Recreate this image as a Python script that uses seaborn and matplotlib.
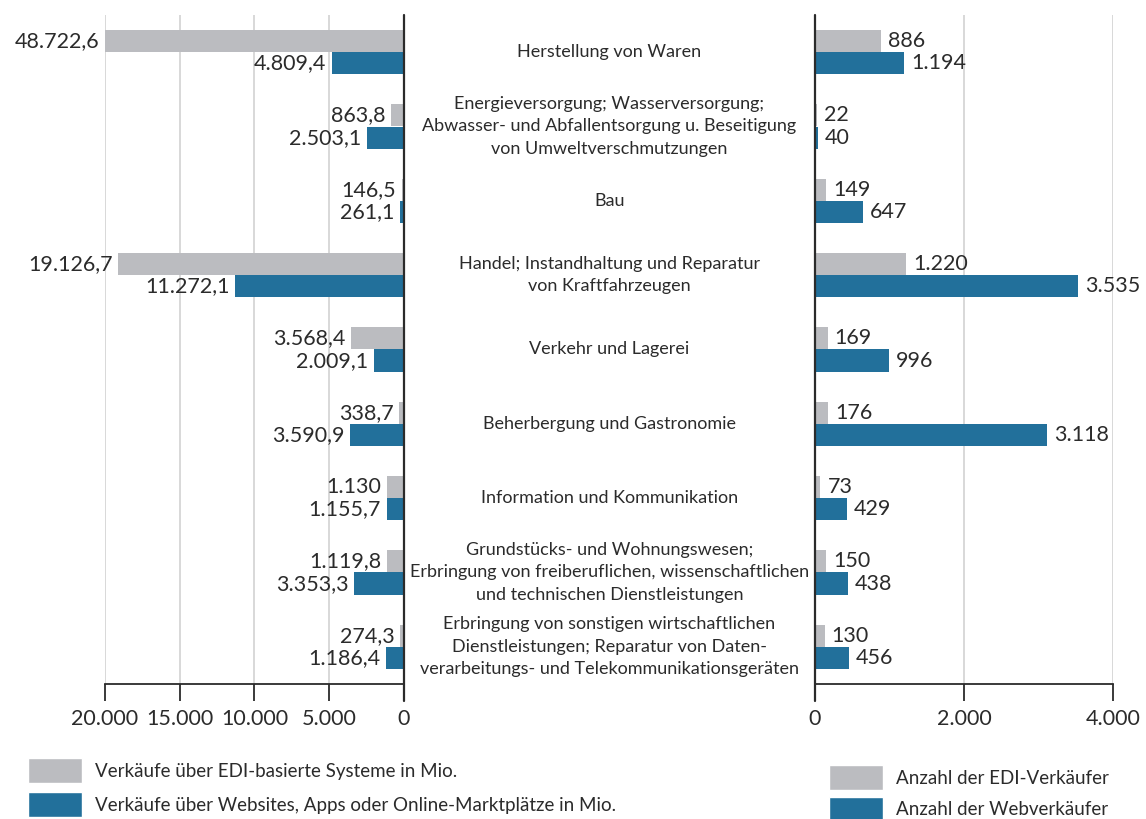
import pandas as pd
import matplotlib.pyplot as plt
import matplotlib.transforms as mtrans
from matplotlib.patches import Patch
import seaborn as sns

branchen = ['Herstellung von Waren',
            'Energieversorgung; Wasserversorgung;\nAbwasser- und Abfallentsorgung u. Beseitigung\nvon Umweltverschmutzungen',
            'Bau',
            'Handel; Instandhaltung und Reparatur\nvon Kraftfahrzeugen',
            'Verkehr und Lagerei',
            'Beherbergung und Gastronomie',
            'Information und Kommunikation',
            'Grundstücks- und Wohnungswesen;\nErbringung von freiberuflichen, wissenschaftlichen\nund technischen Dienstleistungen',
            'Erbringung von sonstigen wirtschaftlichen\nDienstleistungen; Reparatur von Daten-\nverarbeitungs- und Telekommunikationsgeräten']
edi_umsatz = [48722.6, 863.8, 146.5, 19126.7, 3568.4, 338.7, 1130.0, 1119.8, 274.3]
web_umsatz = [4809.4, 2503.1, 261.1, 11272.1, 2009.1, 3590.9, 1155.7, 3353.3, 1186.4]
edi_anzahl = [886, 22, 149, 1220, 169, 176, 73, 150, 130]
web_anzahl = [1194, 40, 647, 3535, 996, 3118, 429, 438, 456]

leg_links = ['Verkäufe über EDI-basierte Systeme in Mio.',
             'Verkäufe über Websites, Apps oder Online-Marktplätze in Mio.']
leg_rechts = ['Anzahl der EDI-Verkäufer', 'Anzahl der Webverkäufer']

grau = '#bbbcc0'
blau = '#22709b'
txt = '#2b2b2b'

sns.set_theme(style='white')
plt.rcParams['font.family'] = ['Lato', 'DejaVu Sans']


def de(v, dec=1):
    # German number format, drop ",0"
    s = f'{v:,.{dec}f}'.replace(',', 'X').replace('.', ',').replace('X', '.')
    if s.endswith(',0'):
        s = s[:-2]
    return s


df_l = pd.DataFrame({'Branche': branchen * 2,
                     'Wert': edi_umsatz + web_umsatz,
                     'Art': ['edi'] * 9 + ['web'] * 9})
df_r = pd.DataFrame({'Branche': branchen * 2,
                     'Wert': edi_anzahl + web_anzahl,
                     'Art': ['edi'] * 9 + ['web'] * 9})

fig = plt.figure(figsize=(11.46, 8.19), dpi=100)
W, H = 1146, 819
ax1 = fig.add_axes([105 / W, 1 - 684 / H, 299 / W, 669 / H])
ax2 = fig.add_axes([815 / W, 1 - 684 / H, 298 / W, 669 / H])

for ax, df in [(ax1, df_l), (ax2, df_r)]:
    sns.barplot(data=df, x='Wert', y='Branche', hue='Art', orient='h',
                palette=[grau, blau], width=0.6, gap=0, legend=False,
                saturation=1, errorbar=None, ax=ax, zorder=3, linewidth=0)
    ax.set_ylim(8.5, -0.5)
    ax.set_ylabel('')
    ax.set_xlabel('')
    ax.set_yticks([])
    ax.grid(axis='x', color='#d6d6d6', linewidth=1.3, zorder=0)
    ax.tick_params(axis='x', bottom=True, length=12, width=1.3, color=txt,
                   labelsize=15.5, labelcolor=txt, pad=6)
    for s in ['top', 'left', 'right', 'bottom']:
        ax.spines[s].set_visible(False)
    ax.spines['bottom'].set_visible(True)
    ax.spines['bottom'].set_color(txt)
    ax.spines['bottom'].set_linewidth(1.3)

ax1.set_xlim(20000, 0)
ax1.set_xticks([20000, 15000, 10000, 5000, 0])
ax1.set_xticklabels([de(t, 0) for t in [20000, 15000, 10000, 5000, 0]])
ax1.axvline(0, color=txt, lw=1.6, ymin=-0.025, clip_on=False, zorder=4)

ax2.set_xlim(0, 4000)
ax2.set_xticks([0, 2000, 4000])
ax2.set_xticklabels([de(t, 0) for t in [0, 2000, 4000]])
ax2.axvline(0, color=txt, lw=1.6, ymin=-0.025, clip_on=False, zorder=4)

# value labels
for i in range(9):
    for v, off in [(edi_umsatz[i], -0.15), (web_umsatz[i], 0.15)]:
        ax1.annotate(de(v), (min(v, 20000), i + off), xytext=(-4, 0),
                     textcoords='offset points', ha='right', va='center',
                     fontsize=15.5, color=txt, annotation_clip=False)
    for v, off in [(edi_anzahl[i], -0.15), (web_anzahl[i], 0.15)]:
        ax2.annotate(de(v, 0), (v, i + off), xytext=(5, 0),
                     textcoords='offset points', ha='left', va='center',
                     fontsize=15.5, color=txt, annotation_clip=False)

# category labels in the middle
tr = mtrans.blended_transform_factory(fig.transFigure, ax1.transData)
for i, b in enumerate(branchen):
    fig.text(609.5 / W, i, b, transform=tr, ha='center', va='center',
             fontsize=13, color=txt, linespacing=1.5)

h = [Patch(facecolor=grau), Patch(facecolor=blau)]
fig.legend(h, leg_links, loc='upper left', bbox_to_anchor=(28 / W, 1 - 758 / H),
           frameon=False, fontsize=13.5, handlelength=2.9, handleheight=1.67,
           labelspacing=0.48, handletextpad=0.7, labelcolor=txt,
           borderpad=0, borderaxespad=0)
fig.legend(h, leg_rechts, loc='upper left', bbox_to_anchor=(829 / W, 1 - 765 / H),
           frameon=False, fontsize=13.5, handlelength=2.9, handleheight=1.67,
           labelspacing=0.37, handletextpad=0.7, labelcolor=txt,
           borderpad=0, borderaxespad=0)

fig.savefig('out.png', dpi=100)
